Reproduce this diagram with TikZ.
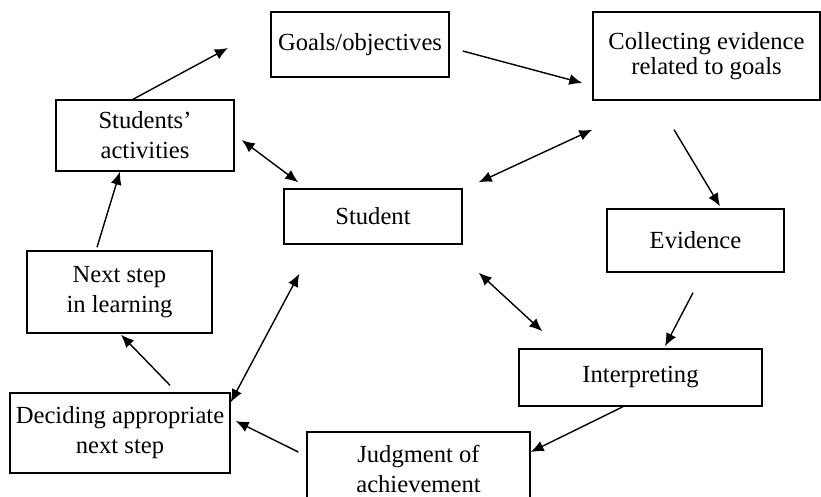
\documentclass[tikz,border=0pt]{standalone}
\usepackage{fontspec}
\setmainfont{Liberation Serif}
\usetikzlibrary{arrows.meta}
\begin{document}
\begin{tikzpicture}[x=0.5pt,y=-0.5pt,
  boxnode/.style={draw, line width=0.7pt, inner sep=0pt, align=center,
    font=\fontsize{12.3}{15}\selectfont},
  arr/.style={line width=0.7pt, -{Latex[length=6.5pt,width=5.5pt]}},
  darr/.style={line width=0.7pt, {Latex[length=6.5pt,width=5.5pt]}-{Latex[length=6.5pt,width=5.5pt]}}]
\useasboundingbox (0,0) rectangle (821,497);
\node[boxnode, minimum width=89pt, minimum height=32.5pt] (goals) at (360,44.5) {Goals/objectives};
\node[boxnode, minimum width=113.5pt, minimum height=44pt, font=\fontsize{12.3}{12.5}\selectfont] (coll) at (706.5,56) {Collecting evidence\\related to goals};
\node[boxnode, minimum width=89pt, minimum height=35.5pt] (sact) at (145,135.5) {Students’\\activities};
\node[boxnode, minimum width=89pt, minimum height=27.5pt] (stud) at (373,216.5) {Student};
\node[boxnode, minimum width=88.5pt, minimum height=31.5pt] (evid) at (695.5,240.5) {Evidence};
\node[boxnode, minimum width=121.5pt, minimum height=28.5pt] (interp) at (640.5,377.5) {Interpreting};
\node[boxnode, minimum width=111.5pt, minimum height=37pt] (judg) at (418.5,469) {Judgment of\\achievement};
\node[boxnode, minimum width=92.5pt, minimum height=41pt] (next) at (119.5,292) {Next step\\in learning};
\node[boxnode, minimum width=110pt, minimum height=40pt] (decid) at (120,433) {Deciding appropriate\\next step};
\coordinate (topend) at (228,48);
% cycle arrows
\draw[arr] ([shift={(-12,0)}]sact.north) -- (topend);
\draw[arr] ([shift={(13,6.5)}]goals.east) -- ([shift={(-10,27)}]coll.west);
\draw[arr] ([shift={(-32.5,29)}]coll.south) -- ([shift={(24.5,-2)}]evid.north);
\draw[arr] ([shift={(-2.5,20)}]evid.south) -- ([shift={(24.5,-2)}]interp.north);
\draw[arr] ([shift={(-17.5,0)}]interp.south) -- ([shift={(0,-17)}]judg.east);
\draw[arr] ([shift={(-8,-17)}]judg.west) -- ([shift={(5,-12)}]decid.east);
\draw[arr] ([shift={(50,-7)}]decid.north) -- ([shift={(1.5,1)}]next.south);
\draw[arr] ([shift={(-22.5,-3)}]next.north) -- ([shift={(-25,0)}]sact.south);
% double arrows with the student
\draw[darr] ([shift={(7,4.5)}]sact.east) -- ([shift={(15,-6)}]stud.north west);
\draw[darr] ([shift={(16,-6)}]stud.north east) -- ([shift={(0,29)}]coll.south west);
\draw[darr] ([shift={(16,28)}]stud.south east) -- ([shift={(24,-17)}]interp.north west);
\draw[darr] ([shift={(0,10)}]decid.north east) -- ([shift={(16,29)}]stud.south west);
\end{tikzpicture}
\end{document}
